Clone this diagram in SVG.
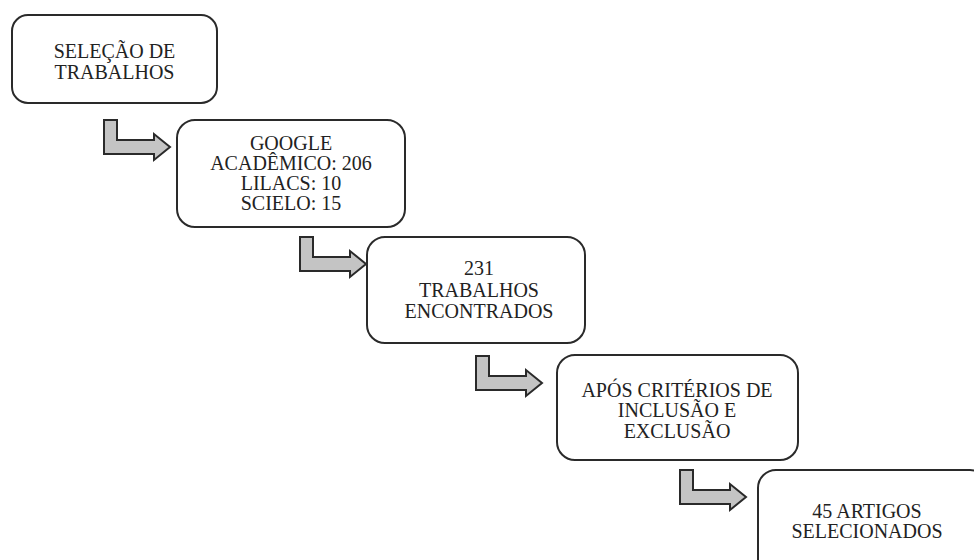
<svg xmlns="http://www.w3.org/2000/svg" width="974" height="560" viewBox="0 0 974 560">
<style>
.box{fill:#ffffff;stroke:#2a2a2a;stroke-width:2}
.arr{fill:#c4c4c4;stroke:#2a2a2a;stroke-width:2;stroke-linejoin:miter}
text{font-family:"Liberation Serif","Times New Roman",serif;font-size:20px;fill:#222;text-anchor:middle}
</style>
<defs>
<path id="larrow" d="M0,0 H13 V20 H50 V14 L66,27 L50,40 V34 H0 Z"/>
</defs>
<rect width="974" height="560" fill="#ffffff"/>
<g id="connectors">
<use href="#larrow" class="arr" x="104" y="120"/>
<use href="#larrow" class="arr" x="300" y="237"/>
<use href="#larrow" class="arr" x="476" y="356"/>
<use href="#larrow" class="arr" x="680" y="470"/>
</g>
<g id="n1">
<rect class="box" x="12" y="15" width="205" height="88" rx="16"/>
<text x="114.5" y="58">SELEÇÃO DE</text>
<text x="114.5" y="79">TRABALHOS</text>
</g>
<g id="n2">
<rect class="box" x="177" y="120" width="228" height="107" rx="18"/>
<text x="291" y="150">GOOGLE</text>
<text x="291" y="170">ACADÊMICO: 206</text>
<text x="291" y="190">LILACS: 10</text>
<text x="291" y="210">SCIELO: 15</text>
</g>
<g id="n3">
<rect class="box" x="367" y="237" width="218" height="106" rx="18"/>
<text x="479" y="275">231</text>
<text x="479" y="297">TRABALHOS</text>
<text x="479" y="318">ENCONTRADOS</text>
</g>
<g id="n4">
<rect class="box" x="557" y="355" width="241" height="105" rx="18"/>
<text x="677" y="397">APÓS CRITÉRIOS DE</text>
<text x="677" y="417">INCLUSÃO E</text>
<text x="677" y="438">EXCLUSÃO</text>
</g>
<g id="n5">
<rect class="box" x="758" y="470" width="230" height="110" rx="18"/>
<text x="867" y="518">45 ARTIGOS</text>
<text x="867" y="538">SELECIONADOS</text>
</g>
</svg>
